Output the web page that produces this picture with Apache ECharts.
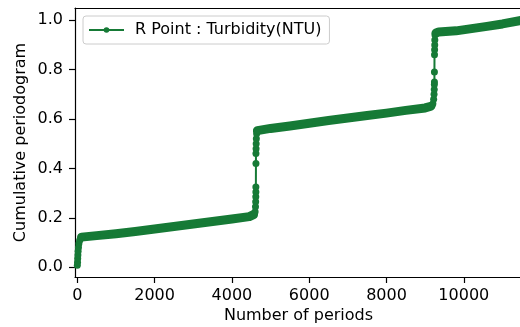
<!DOCTYPE html>
<html>
<head>
<meta charset="utf-8">
<script src="https://cdn.jsdelivr.net/npm/echarts@6/dist/echarts.min.js"></script>
<style>
  html, body { margin: 0; padding: 0; background: #fff; }
  #chart { width: 520px; height: 327px; }
</style>
</head>
<body>
<div id="chart"></div>
<script>
// Cumulative periodogram of R Point turbidity, by number of periods.
const seriesName = 'R Point : Turbidity(NTU)';

// steep rise at the very start
const startX = [0, 5, 10, 15, 20, 30, 40, 60, 80, 110];
const startY = [0.008, 0.02, 0.035, 0.05, 0.065, 0.08, 0.095, 0.108, 0.115, 0.122];

// first gently rising run
const lowRunX = [110, 500, 1000, 1500, 2000, 2500, 3000, 3500, 4000, 4450, 4560];
const lowRunY = [0.122, 0.128, 0.136, 0.145, 0.155, 0.165, 0.175, 0.185, 0.195, 0.205, 0.213];

// first jump
const jump1X = [4600, 4610, 4615, 4618, 4620, 4620, 4622, 4622, 4625, 4628, 4632, 4640, 4660];
const jump1Y = [0.225, 0.245, 0.265, 0.285, 0.305, 0.325, 0.42, 0.46, 0.48, 0.50, 0.52, 0.54, 0.553];

// second run
const midRunX = [4660, 4700, 5000, 5500, 6000, 6500, 7000, 7500, 8000, 8500, 9000, 9150];
const midRunY = [0.553, 0.556, 0.562, 0.572, 0.583, 0.594, 0.604, 0.614, 0.624, 0.635, 0.645, 0.652];

// second jump
const jump2X = [9200, 9220, 9230, 9235, 9238, 9240, 9240, 9242, 9245, 9248, 9250, 9255, 9280];
const jump2Y = [0.662, 0.68, 0.70, 0.72, 0.74, 0.75, 0.79, 0.86, 0.88, 0.90, 0.92, 0.94, 0.948];

// last run
const highRunX = [9280, 9350, 9800, 10200, 10600, 11000, 11500];
const highRunY = [0.948, 0.952, 0.957, 0.966, 0.975, 0.985, 1.0];

// tick labels
const xTicks = [0, 2000, 4000, 6000, 8000, 10000];
const yTicks = [0.0, 0.2, 0.4, 0.6, 0.8, 1.0];

const green = '#167a36';
const font = 'DejaVu Sans';
const fs = 16;

function pairs(xs, ys) { return xs.map((x, i) => [x, ys[i]]); }

const allPoints = [].concat(
  pairs(startX, startY),
  pairs(lowRunX, lowRunY),
  pairs(jump1X, jump1Y),
  pairs(midRunX, midRunY),
  pairs(jump2X, jump2Y),
  pairs(highRunX, highRunY)
);

// dense marker clouds along the runs are drawn as thick strokes
function band(xs, ys) {
  return {
    type: 'line',
    data: pairs(xs, ys),
    showSymbol: false,
    symbol: 'none',
    silent: true,
    lineStyle: { color: green, width: 9, cap: 'round', join: 'round' },
    z: 1
  };
}

const chart = echarts.init(document.getElementById('chart'), null, { renderer: 'canvas' });
chart.setOption({
  animation: false,
  grid: { left: 75, top: 8, width: 447, height: 269, containLabel: false, outerBoundsMode: 'none' },
  legend: {
    data: [seriesName],
    left: 83,
    top: 16,
    padding: [6, 8, 6, 5],
    itemWidth: 35,
    itemHeight: 7,
    itemGap: 0,
    backgroundColor: 'rgba(255,255,255,0.8)',
    borderColor: '#cccccc',
    borderWidth: 1,
    borderRadius: 3,
    textStyle: { fontFamily: font, fontSize: fs, color: '#000', padding: [0, 0, 0, 6] }
  },
  xAxis: [{
    type: 'value',
    min: -60,
    max: 11506,
    name: 'Number of periods',
    nameLocation: 'middle',
    nameGap: 31,
    nameMoveOverlap: false,
    nameTextStyle: { fontFamily: font, fontSize: fs, color: '#000', verticalAlign: 'top' },
    axisLine: { show: true, onZero: false, lineStyle: { color: '#000', width: 1.2 } },
    axisTick: { show: true, length: 6, lineStyle: { color: '#000', width: 1.2 }, customValues: xTicks },
    axisLabel: {
      fontFamily: font, fontSize: fs, color: '#000', margin: 11, customValues: xTicks,
      formatter: v => String(v)
    },
    splitLine: { show: false }
  }, {
    type: 'value',
    position: 'top',
    min: -60,
    max: 11506,
    axisLine: { show: true, onZero: false, lineStyle: { color: '#000', width: 1.2 } },
    axisTick: { show: false },
    axisLabel: { show: false },
    splitLine: { show: false }
  }],
  yAxis: {
    type: 'value',
    min: -0.0395,
    max: 1.0495,
    name: 'Cumulative periodogram',
    nameLocation: 'middle',
    nameGap: 46,
    nameMoveOverlap: false,
    nameTextStyle: { fontFamily: font, fontSize: fs, color: '#000' },
    axisLine: { show: true, onZero: false, lineStyle: { color: '#000', width: 1.2 } },
    axisTick: { show: true, length: 6, lineStyle: { color: '#000', width: 1.2 }, customValues: yTicks },
    axisLabel: {
      fontFamily: font, fontSize: fs, color: '#000', margin: 12, customValues: yTicks,
      formatter: v => v.toFixed(1)
    },
    splitLine: { show: false }
  },
  series: [
    band(lowRunX, lowRunY),
    band(midRunX, midRunY),
    band(highRunX, highRunY),
    {
      name: seriesName,
      type: 'line',
      data: allPoints,
      symbol: 'circle',
      symbolSize: 7,
      showAllSymbol: true,
      itemStyle: { color: green },
      lineStyle: { color: green, width: 2 },
      z: 2
    }
  ]
});
</script>
</body>
</html>
